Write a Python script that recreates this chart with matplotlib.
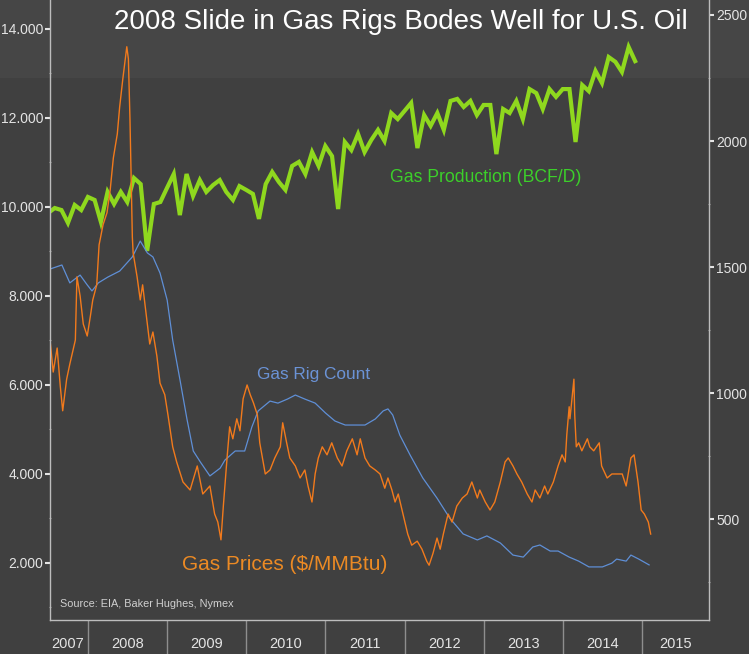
import matplotlib
matplotlib.use("Agg")
import matplotlib.pyplot as plt
from matplotlib.patches import Rectangle
from matplotlib.ticker import FixedLocator, FuncFormatter, NullFormatter
import pandas as pd

# gas production, monthly (right axis)
prod_months = pd.date_range("2007-06-30", "2014-11-30", freq="ME")
prod = [1714, 1734, 1726, 1675, 1746, 1726, 1778,
        1766, 1679, 1798, 1750, 1798, 1758, 1853, 1829, 1564, 1750, 1758, 1814,
        1869, 1706, 1869, 1782, 1845, 1798, 1825, 1845, 1798, 1766, 1821, 1806,
        1790, 1691, 1829, 1877, 1837, 1806, 1901, 1917, 1869, 1956, 1901, 1980,
        1940, 1730, 1996, 1964, 2028, 1956, 2004, 2044, 2000, 2111, 2087, 2119,
        2151, 1972, 2103, 2060, 2111, 2044, 2159, 2167, 2135, 2159, 2103, 2143,
        2143, 1948, 2127, 2111, 2159, 2087, 2206, 2190, 2127, 2206, 2175, 2206,
        2206, 1996, 2222, 2198, 2278, 2230, 2333, 2314, 2274, 2373, 2317]

# gas rig count (right axis)
rig_t = [2007.52, 2007.67, 2007.77, 2007.90, 2007.99, 2008.05, 2008.13, 2008.25,
         2008.40, 2008.56, 2008.66, 2008.75, 2008.82, 2008.91, 2009.00, 2009.07,
         2009.16, 2009.25, 2009.33, 2009.42, 2009.54, 2009.67, 2009.73, 2009.86,
         2009.98, 2010.07, 2010.15, 2010.30, 2010.40, 2010.52, 2010.62, 2010.74,
         2010.87, 2011.00, 2011.12, 2011.25, 2011.37, 2011.50, 2011.63, 2011.73,
         2011.79, 2011.85, 2011.94, 2012.07, 2012.23, 2012.41, 2012.57, 2012.74,
         2012.92, 2013.04, 2013.21, 2013.37, 2013.50, 2013.62, 2013.71, 2013.84,
         2013.94, 2014.08, 2014.20, 2014.33, 2014.50, 2014.62, 2014.68, 2014.80,
         2014.86, 2014.96, 2015.09]
rig = [1492, 1508, 1437, 1468, 1429, 1405, 1437, 1460,
       1484, 1540, 1603, 1556, 1540, 1476, 1369, 1210,
       1056, 897, 770, 726, 671, 702, 734, 770,
       770, 865, 929, 968, 960, 976, 992, 976,
       960, 921, 889, 873, 873, 873, 897, 929,
       937, 913, 833, 754, 663, 583, 504, 441,
       417, 433, 405, 357, 349, 389, 397, 373,
       373, 349, 333, 310, 310, 325, 341, 333,
       357, 341, 318]

# gas prices $/MMBtu (left axis)
price_t = [2007.52, 2007.56, 2007.61, 2007.65, 2007.68, 2007.73, 2007.77, 2007.84,
           2007.86, 2007.90, 2007.94, 2007.99, 2008.03, 2008.06, 2008.11, 2008.14,
           2008.19, 2008.24, 2008.28, 2008.32, 2008.37, 2008.40, 2008.44, 2008.49,
           2008.51, 2008.53, 2008.56, 2008.57, 2008.62, 2008.66, 2008.69, 2008.75,
           2008.78, 2008.82, 2008.87, 2008.91, 2008.97, 2009.01, 2009.07, 2009.12,
           2009.20, 2009.29, 2009.38, 2009.45, 2009.54, 2009.60, 2009.64, 2009.68,
           2009.71, 2009.76, 2009.79, 2009.83, 2009.88, 2009.92, 2009.96, 2010.01,
           2010.05, 2010.09, 2010.14, 2010.17, 2010.24, 2010.30, 2010.36, 2010.43,
           2010.46, 2010.51, 2010.55, 2010.62, 2010.68, 2010.74, 2010.78, 2010.83,
           2010.87, 2010.91, 2010.96, 2011.02, 2011.08, 2011.15, 2011.21, 2011.27,
           2011.34, 2011.40, 2011.44, 2011.50, 2011.56, 2011.63, 2011.69, 2011.75,
           2011.79, 2011.84, 2011.88, 2011.92, 2011.98, 2012.04, 2012.09, 2012.16,
           2012.22, 2012.28, 2012.31, 2012.36, 2012.41, 2012.45, 2012.49, 2012.55,
           2012.60, 2012.66, 2012.73, 2012.79, 2012.85, 2012.92, 2012.95, 2013.02,
           2013.08, 2013.14, 2013.21, 2013.27, 2013.31, 2013.37, 2013.42, 2013.48,
           2013.55, 2013.61, 2013.65, 2013.71, 2013.77, 2013.81, 2013.88, 2013.94,
           2013.99, 2014.03, 2014.05, 2014.08, 2014.09, 2014.12, 2014.14, 2014.15,
           2014.17, 2014.20, 2014.24, 2014.31, 2014.34, 2014.39, 2014.46, 2014.49,
           2014.56, 2014.62, 2014.68, 2014.75, 2014.80, 2014.86, 2014.90, 2014.95,
           2014.99, 2015.03, 2015.08, 2015.11]
price = [7.01, 6.29, 6.83, 5.96, 5.42, 6.13, 6.47, 7.01,
         8.43, 8.00, 7.37, 7.10, 7.55, 7.91, 8.25, 9.15,
         9.60, 9.87, 10.38, 11.10, 11.64, 12.25, 12.88, 13.60,
         13.33, 11.98, 9.33, 8.97, 8.43, 7.91, 8.25, 7.37,
         6.92, 7.19, 6.65, 6.04, 5.78, 5.33, 4.61, 4.27,
         3.82, 3.64, 4.18, 3.55, 3.73, 3.10, 2.92, 2.52,
         3.28, 4.43, 5.06, 4.79, 5.24, 4.97, 5.69, 6.00,
         5.78, 5.60, 5.33, 4.70, 4.00, 4.09, 4.36, 4.61,
         5.15, 4.70, 4.36, 4.18, 3.91, 4.09, 3.73, 3.37,
         4.00, 4.36, 4.61, 4.43, 4.70, 4.36, 4.18, 4.52,
         4.79, 4.43, 4.79, 4.36, 4.18, 4.09, 4.00, 3.68,
         3.91, 3.64, 3.37, 3.55, 3.10, 2.65, 2.40, 2.49,
         2.31, 2.04, 1.95, 2.22, 2.56, 2.31, 2.65, 3.10,
         2.92, 3.28, 3.46, 3.55, 3.82, 3.46, 3.64, 3.37,
         3.19, 3.37, 3.82, 4.27, 4.36, 4.18, 4.00, 3.82,
         3.55, 3.37, 3.64, 3.46, 3.73, 3.55, 3.82, 4.18,
         4.43, 4.27, 4.88, 5.51, 5.24, 5.78, 6.13, 5.33,
         4.61, 4.70, 4.52, 4.79, 4.61, 4.52, 4.70, 4.18,
         3.91, 4.00, 4.00, 4.00, 3.73, 4.36, 4.43, 3.82,
         3.19, 3.10, 2.92, 2.65]

year_edges = [2008, 2009, 2010, 2011, 2012, 2013, 2014, 2015]
year_labels = ["2007", "2008", "2009", "2010", "2011", "2012", "2013", "2014", "2015"]
year_label_pos = [2007.74, 2008.5, 2009.5, 2010.5, 2011.5, 2012.5, 2013.5, 2014.5, 2015.42]


def dec_year(d):
    return d.year + (d.dayofyear - 0.5) / (366 if d.is_leap_year else 365)


prod_t = [dec_year(d) for d in prod_months]

bg = "#404040"
spine_c = "#bdbdbd"
txt_c = "#e4e4e4"
font = "Liberation Sans"

fig = plt.figure(figsize=(7.49, 6.54), dpi=100, facecolor=bg)
# slightly lighter title band
fig.add_artist(Rectangle((0, 0.881), 1, 0.119, transform=fig.transFigure,
                         facecolor="#464646", edgecolor="none", zorder=-5))

ax = fig.add_axes([0.0668, 0.052, 0.8798, 0.948])
ax2 = ax.twinx()
ax.set_zorder(2)
ax2.set_zorder(1)
ax.patch.set_visible(False)
ax2.patch.set_visible(False)

ax2.plot(prod_t, prod, color="#8fd81e", lw=3.0, solid_joinstyle="miter")
ax2.plot(rig_t, rig, color="#5f8fd6", lw=0.9)
ax.plot(price_t, price, color="#f27a1c", lw=1.0)

ax.set_xlim(2007.52, 2015.847)
ax.set_ylim(0.719, 14.65)
ax2.set_ylim(99.4, 2559.5)

# left axis
ax.yaxis.set_major_locator(FixedLocator([2, 4, 6, 8, 10, 12, 14]))
ax.yaxis.set_minor_locator(FixedLocator([1, 3, 5, 7, 9, 11, 13]))
ax.yaxis.set_major_formatter(FuncFormatter(lambda v, p: f"{v:.3f}"))
ax.tick_params(axis="y", which="major", length=3.5, width=1.5, color=txt_c,
               labelcolor=txt_c, labelsize=10, pad=1.5)
ax.tick_params(axis="y", which="minor", length=2, width=0.8, color="#9a9a9a",
               direction="inout")

# right axis
ax2.yaxis.set_major_locator(FixedLocator([500, 1000, 1500, 2000, 2500]))
ax2.yaxis.set_minor_locator(FixedLocator([250, 750, 1250, 1750, 2250]))
ax2.tick_params(axis="y", which="major", length=3.5, width=1.5, color=txt_c,
                labelcolor=txt_c, labelsize=10, pad=1.5)
ax2.tick_params(axis="y", which="minor", length=2, width=0.8, color="#9a9a9a",
                direction="inout")
for lab in ax.get_yticklabels() + ax2.get_yticklabels():
    lab.set_fontfamily(font)

# x axis: long dividers at year edges, labels centred in each year
ax.xaxis.set_major_locator(FixedLocator(year_edges))
ax.xaxis.set_major_formatter(NullFormatter())
ax.set_xticks(year_label_pos, minor=True)
ax.set_xticklabels(year_labels, minor=True, fontfamily=font, fontsize=10.5, color=txt_c)
ax.tick_params(axis="x", which="major", length=25, width=1.0, color="#8e8e8e")
ax.tick_params(axis="x", which="minor", length=0, pad=12)

for a in (ax, ax2):
    for s in a.spines.values():
        s.set_color(spine_c)
        s.set_linewidth(1.0)
    a.spines["top"].set_visible(False)
ax.spines["right"].set_visible(False)
ax2.spines["left"].set_visible(False)
ax2.spines["bottom"].set_visible(False)

fig.text(0.535, 0.966, "2008 Slide in Gas Rigs Bodes Well for U.S. Oil",
         color="white", fontsize=20, ha="center", va="center", family=font)
fig.text(0.5207, 0.728, "Gas Production (BCF/D)", color="#3ccf2a",
         fontsize=12.7, ha="left", va="center", family=font)
fig.text(0.343, 0.428, "Gas Rig Count", color="#6b93d6",
         fontsize=12.4, ha="left", va="center", family=font)
fig.text(0.243, 0.1376, "Gas Prices ($/MMBtu)", color="#ec8a24",
         fontsize=15, ha="left", va="center", family=font)
fig.text(0.080, 0.0765, "Source: EIA, Baker Hughes, Nymex", color="#d0d0d0",
         fontsize=7.8, ha="left", va="center", family=font)

fig.savefig("out.png", dpi=100, facecolor=bg)
